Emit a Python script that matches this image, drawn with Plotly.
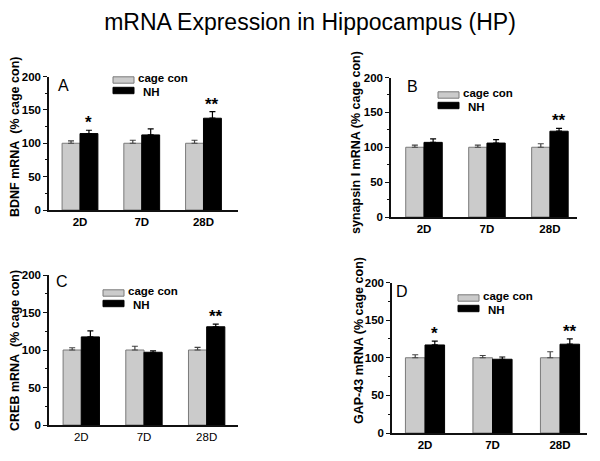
import plotly.graph_objects as go

W, H = 600, 461

# ---------------- data ----------------
categories = ["2D", "7D", "28D"]
series_names = ["cage con", "NH"]

bdnf_cage = [100, 100, 100]
bdnf_cage_err = [3.5, 4.5, 4.5]
bdnf_nh = [114.5, 112.5, 137.5]
bdnf_nh_err = [5, 9, 10]
bdnf_sig = ["*", "", "**"]

syn_cage = [100, 100, 100]
syn_cage_err = [3, 3, 5]
syn_nh = [107, 106, 123]
syn_nh_err = [5, 5, 4]
syn_sig = ["", "", "**"]

creb_cage = [100, 100, 100]
creb_cage_err = [3, 5, 3.5]
creb_nh = [117.5, 97, 131]
creb_nh_err = [8, 2, 3.5]
creb_sig = ["", "", "**"]

gap_cage = [100, 100, 100]
gap_cage_err = [4, 3, 8]
gap_nh = [117, 98, 118]
gap_nh_err = [5, 3, 7]
gap_sig = ["*", "", "**"]

y_ticks = [0, 50, 100, 150, 200]
panel_letters = ["A", "B", "C", "D"]
y_titles = ["BDNF mRNA&nbsp; (% cage con)", "synapsin I mRNA (% cage con)",
            "CREB mRNA&nbsp; (% cage con)", "GAP-43 mRNA (% cage con)"]
main_title = "mRNA Expression in Hippocampus (HP)"

# ---------------- layout geometry (pixels) ----------------
FONT = "Liberation Sans, Arial, Helvetica, sans-serif"
BARGAP = 0.42
panels = [
    dict(cage=bdnf_cage, cerr=bdnf_cage_err, nh=bdnf_nh, nerr=bdnf_nh_err, sig=bdnf_sig,
         xd=(49, 238), yd=(76.5, 210), xr=(-0.502, 2.559), xbold=True,
         letter=(56, 85), leg=(113, 80), ytx=15, yty=137),
    dict(cage=syn_cage, cerr=syn_cage_err, nh=syn_nh, nerr=syn_nh_err, sig=syn_sig,
         xd=(391, 577), yd=(77.5, 217), xr=(-0.524, 2.43), xbold=True,
         letter=(405, 86), leg=(438, 95), ytx=356, yty=143),
    dict(cage=creb_cage, cerr=creb_cage_err, nh=creb_nh, nerr=creb_nh_err, sig=creb_sig,
         xd=(49, 238), yd=(275, 425), xr=(-0.515, 2.50), xbold=False,
         letter=(54, 281), leg=(103, 293), ytx=15, yty=351),
    dict(cage=gap_cage, cerr=gap_cage_err, nh=gap_nh, nerr=gap_nh_err, sig=gap_sig,
         xd=(392, 587), yd=(282.5, 433), xr=(-0.489, 2.40), xbold=True,
         letter=(394, 291), leg=(458, 298), ytx=359, yty=341),
]


def px(x):
    return x / W


def py(y):
    return 1 - y / H


fig = go.Figure()
shapes = []
annotations = []
layout_axes = {}

for i, p in enumerate(panels):
    n = "" if i == 0 else str(i + 1)
    xa, ya = "x" + n, "y" + n
    fig.add_trace(go.Bar(
        x=categories, y=p["cage"], name=series_names[0], xaxis=xa, yaxis=ya,
        marker=dict(color="#cbcbcb", line=dict(color="#7a7a7a", width=1)),
        error_y=dict(type="data", array=p["cerr"], arrayminus=[0] * 3, symmetric=False,
                     color="#444444", thickness=1.2, width=3),
        showlegend=False))
    fig.add_trace(go.Bar(
        x=categories, y=p["nh"], name=series_names[1], xaxis=xa, yaxis=ya,
        marker=dict(color="#000000", line=dict(color="#000000", width=1)),
        error_y=dict(type="data", array=p["nerr"], arrayminus=[0] * 3, symmetric=False,
                     color="#000000", thickness=1.2, width=3),
        showlegend=False))

    layout_axes["xaxis" + n] = dict(
        domain=[px(p["xd"][0]), px(p["xd"][1])], range=list(p["xr"]), anchor=ya,
        showline=True, linecolor="#111", linewidth=1.5, ticks="", showgrid=False,
        zeroline=False, fixedrange=True,
        tickfont=dict(family=FONT, size=11.5, color="#000",
                      weight="bold" if p["xbold"] else "normal"))
    layout_axes["yaxis" + n] = dict(
        domain=[py(p["yd"][1]), py(p["yd"][0])], range=[0, 200], anchor=xa,
        showline=True, linecolor="#111", linewidth=1.5, ticks="outside", ticklen=4,
        tickcolor="#111", tickwidth=1.2, tickvals=y_ticks, showgrid=False, zeroline=False,
        fixedrange=True,
        minor=dict(dtick=25, ticks="outside", ticklen=2, tickcolor="#111", tickwidth=1),
        tickfont=dict(family=FONT, size=11.5, color="#000", weight="bold"))

    # significance stars above NH bars
    unit_px = (p["xd"][1] - p["xd"][0]) / (p["xr"][1] - p["xr"][0])
    bar_px = unit_px * (1 - BARGAP) / 2
    for c, s, v, e in zip(categories, p["sig"], p["nh"], p["nerr"]):
        if s:
            annotations.append(dict(
                x=c, y=v + e, xref=xa, yref=ya, text=s, showarrow=False,
                xshift=bar_px / 2, yshift=-4, yanchor="bottom",
                font=dict(family=FONT, size=17, color="#000", weight="bold")))

    # panel letter
    annotations.append(dict(
        x=px(p["letter"][0]), y=py(p["letter"][1]), xref="paper", yref="paper",
        text=panel_letters[i], showarrow=False, xanchor="left", yanchor="middle",
        font=dict(family=FONT, size=16, color="#000")))

    # y-axis title
    annotations.append(dict(
        x=px(p["ytx"]), y=py(p["yty"]), xref="paper", yref="paper",
        text=y_titles[i], showarrow=False, textangle=-90, xanchor="center", yanchor="middle",
        font=dict(family=FONT, size=12.5, color="#000", weight="bold")))

    # legend boxes and labels
    lx, ly = p["leg"]
    for k, (fill, line) in enumerate([("#cbcbcb", "#7a7a7a"), ("#000000", "#000000")]):
        y0 = ly + k * 10.5
        shapes.append(dict(type="rect", xref="paper", yref="paper",
                           x0=px(lx), x1=px(lx + 21), y0=py(y0 + 3.2), y1=py(y0 - 3.2),
                           fillcolor=fill, line=dict(color=line, width=1)))
        annotations.append(dict(
            x=px(lx + 24 + (5 if k == 1 else 0)), y=py(ly - 2 + k * 13.5),
            xref="paper", yref="paper", borderpad=0,
            text=series_names[k], showarrow=False, xanchor="left", yanchor="middle",
            font=dict(family=FONT, size=11.5, color="#000", weight="bold")))

fig.update_layout(
    width=W, height=H, margin=dict(l=0, r=0, t=0, b=0, autoexpand=False),
    paper_bgcolor="white", plot_bgcolor="white",
    barmode="group", bargap=BARGAP, bargroupgap=0,
    title=dict(text=main_title, x=310 / W, xanchor="center", y=py(22), yanchor="middle",
               font=dict(family=FONT, size=23, color="#000")),
    shapes=shapes, annotations=annotations, showlegend=False,
    **layout_axes)

fig.write_html("out.html", config={"displayModeBar": False},
               post_script="document.body.style.margin='0';document.body.style.padding='0';")
